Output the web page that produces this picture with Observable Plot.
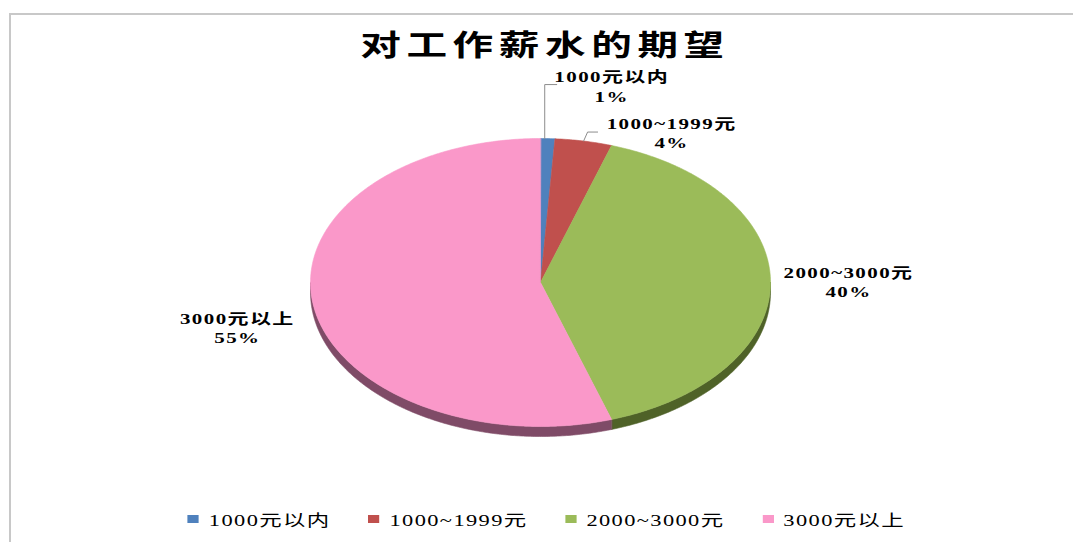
<!DOCTYPE html>
<html><head><meta charset="utf-8">
<script src="https://cdn.jsdelivr.net/npm/d3@7"></script>
<script src="https://cdn.jsdelivr.net/npm/@observablehq/plot@0.6"></script>
<style>
html,body{margin:0;padding:0;background:#fff;}
body{width:1073px;height:542px;overflow:hidden;position:relative;}
#frame{position:absolute;left:9px;top:13px;width:1200px;height:700px;border-top:2px solid #c8c8c8;border-left:2px solid #c8c8c8;}
#chart{position:absolute;left:0;top:0;}
#title{position:absolute;left:0;top:22px;width:1090px;text-align:center;}
#title span{display:inline-block;font-family:"Noto Sans CJK SC",sans-serif;font-weight:700;font-size:29px;letter-spacing:4px;transform:scaleX(1.4);color:#000;}
#legend{position:absolute;top:507px;left:10px;width:1073px;display:flex;justify-content:center;transform:scaleX(1.4);transform-origin:50% 0;font-family:"Liberation Serif","Noto Sans CJK SC",serif;font-weight:normal;font-size:16px;letter-spacing:1px;color:#000;}
#legend .item{display:flex;align-items:center;margin:0 13.5px;}
#legend .sw{width:8px;height:8px;margin-right:7px;}
</style></head><body>
<div id="frame"></div>
<div id="chart"></div>
<div id="title"><span>对工作薪水的期望</span></div>
<div id="legend"></div>
<script>
// ---- data ----
const categories = ["1000元以内", "1000~1999元", "2000~3000元", "3000元以上"];
const shares = [1, 4, 40, 55];           // percent
const pctLabels = ["1%", "4%", "40%", "55%"];
const topColors = ["#4f81bd", "#c0504d", "#9bbb59", "#fa98c9"];
const sideColors = ["#2c4d75", "#772c2a", "#4f6228", "#7f4b67"];

// ---- layout (pixels) ----
const xRange = [310, 770], yRange = [426, 138];
const pxX = (xRange[1] - xRange[0]) / 2, pxY = (yRange[0] - yRange[1]) / 2;
const depthPx = 10;
const labelOffsets = [[64, -53], [88, -9], [78, -1], [-76, 22]];
const leaderSpec = [{i: 0, elbow: [-3, -54], run: 12}, {i: 1, elbow: [4, -9], run: 10}];

const sideKey = c => c + " 侧";
const arcs = d3.pie().sort(null).value(d => d)(shares);

const tops = [], sides = [];
arcs.forEach((a, i) => {
  const k = categories[i];
  tops.push({k, x: 0, y: 0});
  const n = Math.max(2, Math.ceil((a.endAngle - a.startAngle) / 0.01));
  for (let j = 0; j <= n; j++) {
    const t = a.startAngle + (a.endAngle - a.startAngle) * j / n;
    tops.push({k, x: Math.sin(t), y: Math.cos(t)});
  }
  const a0 = Math.max(a.startAngle, Math.PI / 2), a1 = Math.min(a.endAngle, 3 * Math.PI / 2);
  if (a1 > a0) {
    const m = Math.max(2, Math.ceil((a1 - a0) / 0.01));
    const ring = [];
    for (let j = 0; j <= m; j++) {
      const t = a0 + (a1 - a0) * j / m;
      ring.push([Math.sin(t), Math.cos(t)]);
    }
    ring.forEach(([x, y]) => sides.push({k: sideKey(k), x, y}));
    ring.slice().reverse().forEach(([x, y]) => sides.push({k: sideKey(k), x, y: y - depthPx / pxY}));
  }
});

const mids = arcs.map(a => (a.startAngle + a.endAngle) / 2);
const labels = categories.map((c, i) => ({
  text: c + "\n" + pctLabels[i],
  x: Math.sin(mids[i]) + labelOffsets[i][0] / pxX,
  y: Math.cos(mids[i]) - labelOffsets[i][1] / pxY
}));

const leaders = [];
leaderSpec.forEach(({i, elbow, run}) => {
  const sy = Math.cos(mids[i]);
  const sx = Math.sin(mids[i]) + (elbow[0] < 0 ? elbow[0] / pxX : 0);
  const ex = sx + (elbow[0] > 0 ? elbow[0] / pxX : 0), ey = sy - elbow[1] / pxY;
  leaders.push({k: categories[i], x: sx, y: sy});
  leaders.push({k: categories[i], x: ex, y: ey});
  leaders.push({k: categories[i], x: ex + run / pxX, y: ey});
});

const chart = Plot.plot({
  width: 1073,
  height: 542,
  margin: 0,
  style: {background: "transparent"},
  x: {domain: [-1, 1], range: xRange, axis: null},
  y: {domain: [-1, 1], range: yRange, axis: null},
  color: {domain: [...categories, ...categories.map(sideKey)], range: [...topColors, ...sideColors]},
  marks: [
    Plot.line(sides, {x: "x", y: "y", z: "k", fill: "k", stroke: "k", strokeWidth: 0.6, curve: "linear-closed"}),
    Plot.line(tops, {x: "x", y: "y", z: "k", fill: "k", stroke: "k", strokeWidth: 0.6, curve: "linear-closed"}),
    Plot.line(leaders, {x: "x", y: "y", z: "k", stroke: "#8c8c8c", strokeWidth: 1}),
    Plot.text(labels, {x: "x", y: "y", text: "text", fontSize: 15, fontWeight: "bold", lineHeight: 1.3,
      fontFamily: "Liberation Serif, Noto Sans CJK SC, serif", fill: "#000", textAnchor: "middle", lineAnchor: "middle"})
  ]
});
chart.querySelectorAll('g[aria-label="text"]').forEach(g => g.style.letterSpacing = "1px");
chart.querySelectorAll('g[aria-label="text"] text').forEach(t => {
  t.setAttribute("transform", (t.getAttribute("transform") || "") + " scale(1.4,1)");
});
document.getElementById("chart").appendChild(chart);

const legend = document.getElementById("legend");
categories.forEach((c, i) => {
  const item = document.createElement("div");
  item.className = "item";
  const sw = document.createElement("span");
  sw.className = "sw";
  sw.style.background = topColors[i];
  const tx = document.createElement("span");
  tx.textContent = c;
  item.append(sw, tx);
  legend.appendChild(item);
});
</script>
</body></html>
